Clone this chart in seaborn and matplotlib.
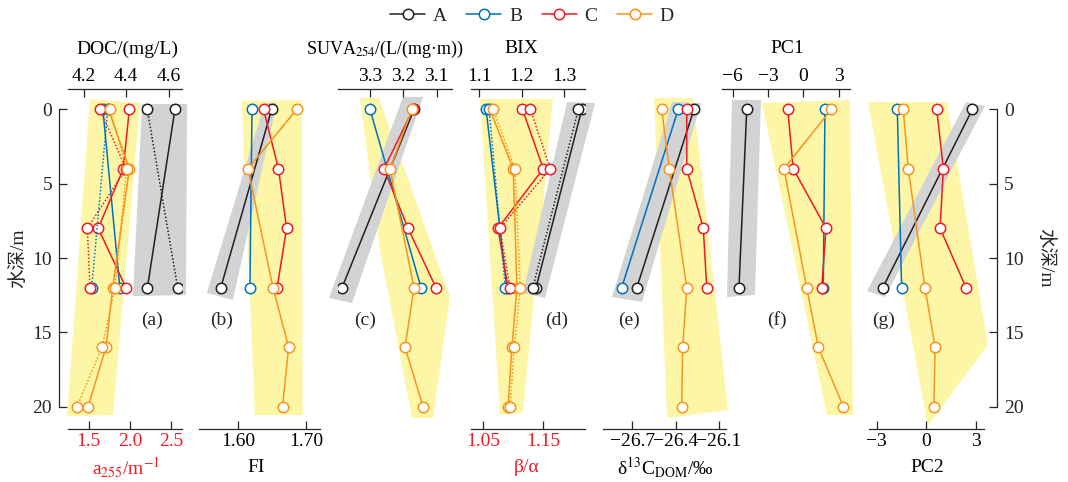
import matplotlib
matplotlib.use("Agg")
import pandas as pd
import matplotlib.pyplot as plt
import seaborn as sns
from matplotlib.lines import Line2D

# sampling sites and depths (m)
SITES = ["A", "B", "C", "D"]
DEPTH = {"A": [0, 12], "B": [0, 12], "C": [0, 4, 8, 12], "D": [0, 4, 12, 16, 20]}

# values, one dict per variable
DOC = {"A": [4.63, 4.50], "B": [4.29, 4.37],
       "C": [4.415, 4.386, 4.268, 4.399], "D": [4.316, 4.415, 4.336, 4.305, 4.22]}
A255 = {"A": [2.21, 2.58], "B": [1.73, 1.535],
        "C": [1.636, 1.952, 1.482, 1.515], "D": [1.758, 1.961, 1.818, 1.66, 1.357]}
FI = {"A": [1.649, 1.574], "B": [1.620, 1.617],
      "C": [1.637, 1.659, 1.671, 1.657], "D": [1.686, 1.614, 1.651, 1.674, 1.665]}
SUVA = {"A": [3.168, 3.384], "B": [3.30, 3.147],
        "C": [3.171, 3.258, 3.186, 3.102], "D": [3.174, 3.240, 3.168, 3.195, 3.141]}
BIX = {"A": [1.342, 1.234], "B": [1.116, 1.165],
       "C": [1.202, 1.251, 1.144, 1.168], "D": [1.125, 1.180, 1.189, 1.177, 1.168]}
BETA_ALPHA = {"A": [1.209, 1.133], "B": [1.060, 1.087],
              "C": [1.129, 1.162, 1.078, 1.095], "D": [1.067, 1.103, 1.112, 1.102, 1.095]}
D13C = {"A": [-26.272, -26.669], "B": [-26.381, -26.774],
        "C": [-26.322, -26.322, -26.207, -26.183], "D": [-26.496, -26.443, -26.322, -26.350, -26.357]}
PC1 = {"A": [-4.80, -5.46], "B": [1.84, 1.70],
       "C": [-1.32, -0.85, 1.93, 1.57], "D": [2.38, -1.64, 0.29, 1.28, 3.40]}
PC2 = {"A": [2.78, -2.63], "B": [-1.75, -1.49],
       "C": [0.63, 1.03, 0.83, 2.40], "D": [-1.39, -1.09, -0.08, 0.53, 0.46]}

# shaded envelopes (value, depth) in each panel's main axis units
SHADE_A = [[(4.229, -0.69), (4.465, -0.42), (4.338, 20.56), (4.121, 20.63)],
           [(4.475, -0.36), (4.687, -0.36), (4.682, 12.49), (4.432, 12.56)]]
SHADE_B = [[(1.605, -0.56), (1.6934, -0.63), (1.6948, 20.56), (1.6242, 20.56)],
           [(1.6389, -0.42), (1.6566, -0.42), (1.5918, 12.82), (1.5535, 12.35)]]
SHADE_C = [[(3.330, -0.76), (3.273, -0.76), (3.060, 12.62), (3.111, 20.76), (3.174, 20.76), (3.270, 9.46)],
           [(3.201, -0.83), (3.141, -0.83), (3.354, 13.03), (3.423, 12.69)]]
SHADE_D = [[(1.1017, -0.69), (1.274, -0.69), (1.2032, 20.36), (1.1489, 20.56)],
           [(1.3071, -0.49), (1.3732, -0.42), (1.2551, 12.69), (1.2032, 12.35)]]
SHADE_E = [[(-26.549, -0.76), (-26.278, -0.76), (-26.035, 20.22), (-26.459, 20.76)],
           [(-26.424, -0.49), (-26.223, -0.42), (-26.633, 12.96), (-26.841, 12.62)]]
SHADE_F = [[(-3.50, -0.42), (3.97, -0.63), (4.22, 20.56), (2.01, 20.56)],
           [(-6.05, -0.63), (-3.59, -0.63), (-4.10, 12.49), (-6.48, 12.62)]]
SHADE_G = [[(-3.52, -0.49), (1.25, -0.49), (3.72, 15.85), (0.10, 21.3)],
           [(2.40, -0.49), (3.54, -0.22), (-2.49, 12.62), (-3.58, 12.22)]]

COLORS = {"A": "#231f20", "B": "#0072bc", "C": "#ed1c24", "D": "#f7941d"}
YELLOW = "#fdf6a6"
GRAY = "#d1d3d4"
RED = "#ed1c24"

W, H = 1068, 482
Y_TOP, Y_BOT = 88.8, 429.0
YLIM = (21.5, -1.38)

sns.set_style("ticks")
plt.rcParams["font.family"] = ["Liberation Serif", "Noto Sans CJK SC"]
plt.rcParams["mathtext.fontset"] = "stix"
plt.rcParams["axes.linewidth"] = 0.9

fig = plt.figure(figsize=(W / 100, H / 100), dpi=100)


def make_df(values):
    rows = []
    for s in SITES:
        for d, v in zip(DEPTH[s], values[s]):
            rows.append({"site": s, "depth": d, "value": v})
    return pd.DataFrame(rows)


def add_panel(x0, x1):
    ax = fig.add_axes([x0 / W, 1 - Y_BOT / H, (x1 - x0) / W, (Y_BOT - Y_TOP) / H])
    ax.set_facecolor("none")
    for sp in ax.spines.values():
        sp.set_visible(False)
    return ax


def draw_series(ax, values, dotted=False):
    df = make_df(values)
    ls = (0, (1, 1.3)) if dotted else "-"
    for s in SITES:
        sub = df[df["site"] == s]
        sns.lineplot(data=sub, x="value", y="depth", sort=False, estimator=None,
                     color=COLORS[s], lw=1.1, ls=ls, marker="o", ms=7.5,
                     mfc="white", mec=COLORS[s], mew=1.1, ax=ax, legend=False, zorder=3)


def style_x(ax, side, xlim, ticks, fmt, label, label_x, color="black", label_size=14):
    ax.set_ylim(*YLIM)
    ax.yaxis.set_visible(False)
    ax.set_xlim(*xlim)
    ax.spines[side].set_visible(True)
    ax.xaxis.set_ticks_position(side)
    ax.xaxis.set_label_position(side)
    ax.set_xticks(ticks)
    ax.set_xticklabels([fmt.format(t).replace("-", "\u2212") for t in ticks])
    ax.tick_params(axis="x", direction="in", length=5.5, width=0.9, labelsize=14,
                   labelcolor=color, pad=3)
    ax.set_xlabel(label, fontsize=label_size, color=color)
    if side == "top":
        ax.xaxis.set_label_coords(label_x, 1.117)
    else:
        ax.xaxis.set_label_coords(label_x, -0.113)
    ax.xaxis.label.set_va("center")


def shade(ax, polys):
    for poly, c in zip(polys, [YELLOW, GRAY]):
        xs = [p[0] for p in poly]
        ys = [p[1] for p in poly]
        ax.fill(xs, ys, color=c, lw=0, zorder=0, clip_on=False)


def panel_tag(ax, text, fx):
    ax.text(fx, 0.32, text, transform=ax.transAxes, ha="center", va="center", fontsize=14)


# depth axis (left and right)
host = fig.add_axes([59 / W, 1 - Y_BOT / H, (997 - 59) / W, (Y_BOT - Y_TOP) / H])
host.set_facecolor("none")
host.set_ylim(*YLIM)
host.set_xticks([])
host.spines["top"].set_visible(False)
host.spines["bottom"].set_visible(False)
host.spines["left"].set_bounds(0, 20)
host.spines["right"].set_bounds(0, 20)
host.set_yticks([0, 5, 10, 15, 20])
host.tick_params(axis="y", direction="in", left=True, right=True, labelleft=True,
                 labelright=True, length=5.5, width=0.9, labelsize=14, pad=5)
host.set_ylabel("水深/m", fontsize=14)
host.yaxis.label.set_va("center")
host.yaxis.set_label_coords(-0.0437, 0.503)
host.text(1.051, 0.503, "水深/m", transform=host.transAxes, rotation=270,
          ha="center", va="center", fontsize=14)

# (a) DOC (solid, top) and a255 (dotted, bottom)
ax = add_panel(68, 182)
shade(ax, SHADE_A)
draw_series(ax, DOC)
style_x(ax, "top", (4.1255, 4.6632), [4.2, 4.4, 4.6], "{:.1f}", "DOC/(mg/L)", 0.518)
ax2 = add_panel(68, 182)
draw_series(ax2, A255, dotted=True)
style_x(ax2, "bottom", (1.2473, 2.6324), [1.5, 2.0, 2.5], "{:.1f}",
        "a$_{255}$/m$^{-1}$", 0.509, color=RED)
panel_tag(ax, "(a)", 0.734)

# (b) FI
ax = add_panel(198.7, 320)
shade(ax, SHADE_B)
draw_series(ax, FI)
style_x(ax, "bottom", (1.5415, 1.7202), [1.60, 1.70], "{:.2f}", "FI", 0.472)
panel_tag(ax, "(b)", 0.19)

# (c) SUVA254 (reversed)
ax = add_panel(337.5, 452)
shade(ax, SHADE_C)
draw_series(ax, SUVA)
style_x(ax, "top", (3.3975, 3.0541), [3.3, 3.2, 3.1], "{:.1f}",
        "SUVA$_{254}$/(L/(mg\u00b7m))", 0.415, label_size=13)
panel_tag(ax, "(c)", 0.24)

# (d) BIX (solid, top) and beta/alpha (dotted, bottom)
ax = add_panel(471, 585)
shade(ax, SHADE_D)
draw_series(ax, BIX)
style_x(ax, "top", (1.0804, 1.3496), [1.1, 1.2, 1.3], "{:.1f}", "BIX", 0.439)
ax2 = add_panel(471, 585)
draw_series(ax2, BETA_ALPHA, dotted=True)
style_x(ax2, "bottom", (1.0298, 1.2201), [1.05, 1.15], "{:.2f}", "β/α", 0.49, color=RED)
panel_tag(ax, "(d)", 0.752)

# (e) d13C DOM
ax = add_panel(603, 725.6)
shade(ax, SHADE_E)
draw_series(ax, D13C)
style_x(ax, "bottom", (-26.9035, -26.0521), [-26.7, -26.4, -26.1], "{:.1f}",
        "δ$^{13}$C$_{\\mathrm{DOM}}$/‰", 0.506)
panel_tag(ax, "(e)", 0.215)

# (f) PC1
ax = add_panel(722, 850)
shade(ax, SHADE_F)
draw_series(ax, PC1)
style_x(ax, "top", (-6.90, 3.966), [-6, -3, 0, 3], "{:.0f}", "PC1", 0.508)
panel_tag(ax, "(f)", 0.427)

# (g) PC2
ax = add_panel(869, 984)
shade(ax, SHADE_G)
draw_series(ax, PC2)
style_x(ax, "bottom", (-3.458, 3.482), [-3, 0, 3], "{:.0f}", "PC2", 0.504)
panel_tag(ax, "(g)", 0.124)

handles = [Line2D([], [], color=COLORS[s], lw=1.1, marker="o", ms=7.5, mfc="white",
                  mec=COLORS[s], mew=1.1) for s in SITES]
fig.legend(handles, SITES, ncol=4, loc="center", bbox_to_anchor=(532 / W, 1 - 16 / H),
           frameon=False, fontsize=14, handlelength=1.8, handletextpad=0.4,
           columnspacing=1.0)

fig.savefig("out.png", dpi=100)
